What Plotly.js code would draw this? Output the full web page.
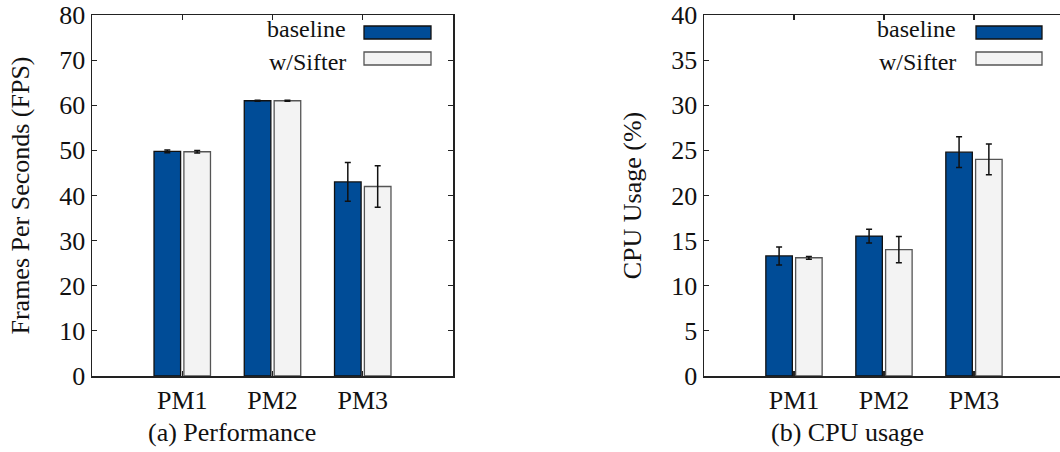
<!DOCTYPE html>
<html>
<head>
<meta charset="utf-8">
<script src="https://cdn.plot.ly/plotly-3.0.1.min.js"></script>
<style>html,body{margin:0;padding:0;background:#fff;overflow:hidden}</style>
</head>
<body>
<div id="chart" style="width:1060px;height:452px"></div>
<script>
// ---- data ----
var categories = ['PM1', 'PM2', 'PM3'];
var seriesNames = ['baseline', 'w/Sifter'];

var fpsBaseline = [49.8, 61.0, 43.0];
var fpsBaselineErr = [0.3, 0.1, 4.3];
var fpsSifter = [49.7, 61.0, 42.0];
var fpsSifterErr = [0.3, 0.1, 4.6];

var cpuBaseline = [13.3, 15.5, 24.8];
var cpuBaselineErr = [1.0, 0.75, 1.7];
var cpuSifter = [13.1, 14.0, 24.0];
var cpuSifterErr = [0.15, 1.45, 1.7];

var fpsTicks = [0, 10, 20, 30, 40, 50, 60, 70, 80];
var cpuTicks = [0, 5, 10, 15, 20, 25, 30, 35, 40];

var yTitles = ['Frames Per Seconds (FPS)', 'CPU Usage (%)'];
var captions = ['(a) Performance', '(b) CPU usage'];

// ---- style ----
var W = 1060, H = 452;
var FONT = 'Times New Roman, Liberation Serif, Tinos, Nimbus Roman, DejaVu Serif, serif';
var FS = 26;
var BLUE = '#004c97';
var LIGHT = '#f3f3f3';
function px(x) { return x / W; }
function py(y) { return 1 - y / H; }

var errStyle = {type: 'data', visible: true, color: '#111', thickness: 1.5, width: 3};

function barTrace(x, y, err, name, xa, ya, fill, lineColor) {
  return {
    type: 'bar', x: x, y: y, name: name, xaxis: xa, yaxis: ya,
    marker: {color: fill, line: {color: lineColor, width: 1.3}},
    error_y: Object.assign({array: err}, errStyle),
    showlegend: false, hoverinfo: 'x+y+name'
  };
}

var data = [
  barTrace(categories, fpsBaseline, fpsBaselineErr, seriesNames[0], 'x', 'y', BLUE, '#111'),
  barTrace(categories, fpsSifter, fpsSifterErr, seriesNames[1], 'x', 'y', LIGHT, '#555'),
  barTrace(categories, cpuBaseline, cpuBaselineErr, seriesNames[0], 'x2', 'y2', BLUE, '#111'),
  barTrace(categories, cpuSifter, cpuSifterErr, seriesNames[1], 'x2', 'y2', LIGHT, '#555')
];

function xAxis(domain, range, anchor) {
  return {
    domain: domain, range: range, anchor: anchor, type: 'category',
    showline: true, linecolor: '#222', linewidth: 1.5, mirror: 'ticks',
    ticks: 'inside', ticklen: 5, tickcolor: '#222', tickwidth: 1.2,
    showgrid: false, zeroline: false,
    tickfont: {family: FONT, size: FS, color: '#111'}, fixedrange: true
  };
}
function yAxis(domain, range, ticks, title, anchor, mirror) {
  return {
    domain: domain, range: range, anchor: anchor,
    tickvals: ticks, ticktext: ticks.map(String),
    showline: true, linecolor: '#222', linewidth: 1.5, mirror: mirror,
    ticks: 'inside', ticklen: 5, tickcolor: '#222', tickwidth: 1.2,
    showgrid: false, zeroline: false,
    tickfont: {family: FONT, size: FS, color: '#111'},
    title: {text: title, font: {family: FONT, size: FS, color: '#111'}, standoff: 22},
    fixedrange: true
  };
}

var yDom = [py(376), py(15)];
var layout = {
  width: W, height: H,
  margin: {l: 0, r: 0, t: 0, b: 0},
  paper_bgcolor: '#fff', plot_bgcolor: '#fff',
  font: {family: FONT, size: FS, color: '#111'},
  barmode: 'group', bargap: 0.338, bargroupgap: 0.11,
  showlegend: false,
  xaxis: xAxis([px(92), px(453)], [-1, 3], 'y'),
  yaxis: yAxis(yDom, [0, 80], fpsTicks, yTitles[0], 'x', 'ticks'),
  xaxis2: xAxis([px(704), 1], [-1, 2.956], 'y2'),
  yaxis2: yAxis(yDom, [0, 40], cpuTicks, yTitles[1], 'x2', false),
  shapes: [],
  annotations: []
};

// legends (text left, swatch right), one per panel
var legendSpecs = [
  {textRight: 348, swL: 364, swR: 431},
  {textRight: 958, swL: 976, swR: 1042}
];
var rowsY = [32.5, 58.5];
var textY = [29.5, 62];
var fills = [BLUE, LIGHT], lines = ['#111', '#555'];
legendSpecs.forEach(function (s) {
  seriesNames.forEach(function (name, i) {
    layout.shapes.push({
      type: 'rect', xref: 'paper', yref: 'paper',
      x0: px(s.swL), x1: px(s.swR), y0: py(rowsY[i] - 6.5), y1: py(rowsY[i] + 6.5),
      fillcolor: fills[i], line: {color: lines[i], width: 1.3}
    });
    layout.annotations.push({
      xref: 'paper', yref: 'paper', x: px(s.textRight), y: py(textY[i]),
      xanchor: 'right', yanchor: 'middle', showarrow: false, text: name,
      font: {family: FONT, size: 24, color: '#111'}
    });
  });
});

// captions
var capX = [232, 847];
captions.forEach(function (c, i) {
  layout.annotations.push({
    xref: 'paper', yref: 'paper', x: px(capX[i]), y: py(432),
    xanchor: 'center', yanchor: 'middle', showarrow: false, text: c,
    font: {family: FONT, size: FS, color: '#111'}
  });
});

Plotly.newPlot('chart', data, layout, {displayModeBar: false, staticPlot: true});
</script>
</body>
</html>
